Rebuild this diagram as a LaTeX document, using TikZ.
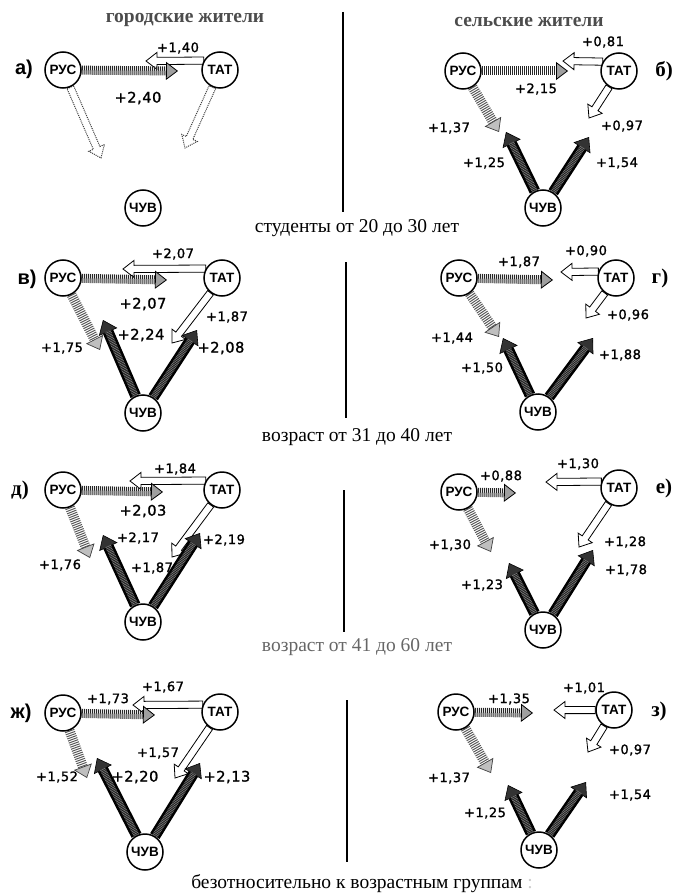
\documentclass[tikz,border=0pt]{standalone}
\usepackage{fontspec}
\setmainfont{Liberation Serif}
\setsansfont{Liberation Sans}
\newfontfamily\techfont{DejaVu Sans}[LetterSpace=4.0, FakeBold=1.4]
\usepackage{tikz}
\usetikzlibrary{calc, arrows.meta}
\pgfdeclarelayer{behind}
\pgfsetlayers{behind,main}

\begin{document}
\begin{tikzpicture}[x=1pt, y=-1pt,
    ethnos/.style={draw, circle, line width=1.5pt, fill=white, minimum size=36pt, inner sep=0pt,
        font=\sffamily\bfseries\fontsize{13.5}{13}\selectfont},
    val/.style={inner sep=1pt, font=\techfont\fontsize{13}{13}\selectfont},
    bigval/.style={inner sep=1pt, font=\techfont\fontsize{14.5}{15}\selectfont},
    sfletter/.style={font=\sffamily\bfseries\fontsize{20}{20}\selectfont},
    rmletter/.style={font=\bfseries\fontsize{21}{21}\selectfont},
    caption/.style={font=\fontsize{19.5}{20}\selectfont},
    heading/.style={text=black!70, font=\bfseries\fontsize{19.5}{20}\selectfont},
    hatcharrow/.style={draw=black!85, line width=9pt, dash pattern=on 1pt off 1pt,
        -{Triangle[length=12pt, width=18pt, line width=0.8pt, color=black, fill=gray!75]}},
    lightarrow/.style={draw=black!65, line width=10pt, dash pattern=on 1pt off 1.2pt,
        -{Triangle[length=12pt, width=19pt, line width=0.7pt, color=black!75, fill=gray!50]}},
    darkarrow/.style={draw=black, line width=11pt,
        -{Triangle[length=13pt, width=20pt, line width=0.6pt, color=black, fill=black!80]},
        postaction={draw=black!55, line width=6pt, dash pattern=on 0.8pt off 0.8pt, arrows=-, shorten >=12pt}},
    openarrow/.style={draw=black, fill=white, line width=0.8pt, line join=miter,
        to path={($(\tikztostart)!3.6pt!90:(\tikztotarget)$)
            -- ($(\tikztotarget)!11pt!(\tikztostart)!3.6pt!90:(\tikztotarget)$)
            -- ($(\tikztotarget)!11pt!(\tikztostart)!8.5pt!90:(\tikztotarget)$)
            -- (\tikztotarget)
            -- ($(\tikztotarget)!11pt!(\tikztostart)!8.5pt!-90:(\tikztotarget)$)
            -- ($(\tikztotarget)!11pt!(\tikztostart)!3.6pt!-90:(\tikztotarget)$)
            -- ($(\tikztostart)!3.6pt!-90:(\tikztotarget)$) -- cycle}},
    dotarrow/.style={openarrow, draw=black!75, line width=1pt, densely dotted}
]
    \useasboundingbox (0,0) rectangle (676,896);

    % Column headings and captions
    \node[heading] (cityhead) at (185,20) {городские жители};
    \node[heading] (ruralhead) at (529,22) {сельские жители};
    \node[caption] (cap1) at (357,228) {студенты от 20 до 30 лет};
    \node[caption] (cap2) at (357,437) {возраст от 31 до 40 лет};
    \node[caption, text=black!60] (cap3) at (357,647) {возраст от 41 до 60 лет};
    \node[caption] (cap4) at (362,884) {безотносительно к возрастным группам {\color{black!20}:}};

    % Separators
    \draw[line width=1.6pt] (343,12) -- (343,212);
    \draw[line width=1.6pt] (346,262) -- (346,418);
    \draw[line width=1.6pt] (344,490) -- (344,632);
    \draw[line width=1.6pt] (347,700) -- (347,862);

    % a) city, students
    \node[sfletter] (la) at (24,69) {а)};
    \node[ethnos] (rusA) at (63,70) {РУС};
    \node[ethnos] (tatA) at (220,70) {ТАТ};
    \node[ethnos] (chuvA) at (143,208) {ЧУВ};
    \coordinate (hA) at (178,71);
    \coordinate (wA) at (146,61);
    \coordinate (pA1) at (101,158);
    \coordinate (pA2) at (185,148);
    \node[bigval] (vA1) at (138,98) {+2,40};
    \node[val] (vA2) at (178,48) {+1,40};

    % b) rural, students
    \node[rmletter] (lb) at (664,71) {б)};
    \node[ethnos] (rusB) at (463,71) {РУС};
    \node[ethnos] (tatB) at (619,71) {ТАТ};
    \node[ethnos] (chuvB) at (543,208) {ЧУВ};
    \coordinate (hB) at (568,71);
    \coordinate (wB) at (563,61);
    \coordinate (sB) at (499,132);
    \coordinate (oB) at (589,118);
    \coordinate (dB1) at (506,132);
    \coordinate (dB2) at (589,137);
    \node[val] (vB1) at (536,89) {+2,15};
    \node[val] (vB2) at (603,42) {+0,81};
    \node[val] (vB3) at (449,128) {+1,37};
    \node[val] (vB4) at (622,126) {+0,97};
    \node[val] (vB5) at (484,163) {+1,25};
    \node[val] (vB6) at (617,163) {+1,54};

    % c) city, 31-40
    \node[sfletter] (lc) at (27,279) {в)};
    \node[ethnos] (rusC) at (63,278) {РУС};
    \node[ethnos] (tatC) at (222,278) {ТАТ};
    \node[ethnos] (chuvC) at (143,413) {ЧУВ};
    \coordinate (hC) at (167,280);
    \coordinate (wC) at (123,269);
    \coordinate (sC) at (100,350);
    \coordinate (oC) at (172,343);
    \coordinate (dC1) at (103,320);
    \coordinate (dC2) at (197,330);
    \node[bigval] (vC1) at (143,304) {+2,07};
    \node[val] (vC2) at (173,254) {+2,07};
    \node[val] (vC3) at (62,348) {+1,75};
    \node[val] (vC4) at (227,317) {+1,87};
    \node[bigval] (vC5) at (141,335) {+2,24};
    \node[bigval] (vC6) at (221,348) {+2,08};

    % d) rural, 31-40
    \node[rmletter] (ld) at (660,278) {г)};
    \node[ethnos] (rusD) at (459,278) {РУС};
    \node[ethnos] (tatD) at (616,278) {ТАТ};
    \node[ethnos] (chuvD) at (538,412) {ЧУВ};
    \coordinate (hD) at (553,280);
    \coordinate (wD) at (561,272);
    \coordinate (sD) at (499,337);
    \coordinate (oD) at (586,318);
    \coordinate (dD1) at (503,338);
    \coordinate (dD2) at (593,338);
    \node[val] (vD1) at (519,262) {+1,87};
    \node[val] (vD2) at (586,251) {+0,90};
    \node[val] (vD3) at (452,338) {+1,44};
    \node[val] (vD4) at (628,315) {+0,96};
    \node[val] (vD5) at (482,368) {+1,50};
    \node[val] (vD6) at (620,355) {+1,88};

    % e) city, 41-60
    \node[rmletter] (le) at (20,490) {д)};
    \node[ethnos] (rusE) at (63,490) {РУС};
    \node[ethnos] (tatE) at (222,490) {ТАТ};
    \node[ethnos] (chuvE) at (143,622) {ЧУВ};
    \coordinate (hE) at (163,492);
    \coordinate (wE) at (130,481);
    \coordinate (sE) at (90,558);
    \coordinate (oE) at (172,557);
    \coordinate (dE1) at (103,535);
    \coordinate (dE2) at (200,533);
    \node[bigval] (vE1) at (143,511) {+2,03};
    \node[val] (vE2) at (175,469) {+1,84};
    \node[val] (vE3) at (60,565) {+1,76};
    \node[val] (vE4) at (152,568) {+1,87};
    \node[val] (vE5) at (138,538) {+2,17};
    \node[val] (vE6) at (224,540) {+2,19};

    % f) rural, 41-60
    \node[rmletter] (lf) at (664,488) {е)};
    \node[ethnos] (rusF) at (459,492) {РУС};
    \node[ethnos] (tatF) at (619,488) {ТАТ};
    \node[ethnos] (chuvF) at (543,630) {ЧУВ};
    \coordinate (hF) at (516,493);
    \coordinate (wF) at (546,482);
    \coordinate (sF) at (491,552);
    \coordinate (oF) at (579,547);
    \coordinate (dF1) at (509,563);
    \coordinate (dF2) at (593,550);
    \node[val] (vF1) at (501,476) {+0,88};
    \node[val] (vF2) at (578,464) {+1,30};
    \node[val] (vF3) at (450,545) {+1,30};
    \node[val] (vF4) at (625,542) {+1,28};
    \node[val] (vF5) at (482,585) {+1,23};
    \node[val] (vF6) at (626,570) {+1,78};

    % g) city, all ages
    \node[sfletter] (lg) at (21,713) {ж)};
    \node[ethnos] (rusG) at (63,713) {РУС};
    \node[ethnos] (tatG) at (220,712) {ТАТ};
    \node[ethnos] (chuvG) at (145,852) {ЧУВ};
    \coordinate (hG) at (155,715);
    \coordinate (wG) at (133,705);
    \coordinate (sG) at (87,778);
    \coordinate (oG) at (175,778);
    \coordinate (dG1) at (97,758);
    \coordinate (dG2) at (200,763);
    \node[val] (vG1) at (108,699) {+1,73};
    \node[val] (vG2) at (163,687) {+1,67};
    \node[val] (vG3) at (57,777) {+1,52};
    \node[val] (vG4) at (158,753) {+1,57};
    \node[bigval] (vG5) at (135,777) {+2,20};
    \node[bigval] (vG6) at (227,777) {+2,13};

    % h) rural, all ages
    \node[rmletter] (lh) at (659,711) {з)};
    \node[ethnos] (rusH) at (456,712) {РУС};
    \node[ethnos] (tatH) at (614,710) {ТАТ};
    \node[ethnos] (chuvH) at (539,850) {ЧУВ};
    \coordinate (hH) at (533,713);
    \coordinate (wH) at (554,710);
    \coordinate (sH) at (491,773);
    \coordinate (oH) at (588,752);
    \coordinate (dH1) at (508,785);
    \coordinate (dH2) at (586,782);
    \node[val] (vH1) at (509,699) {+1,35};
    \node[val] (vH2) at (584,688) {+1,01};
    \node[val] (vH3) at (449,778) {+1,37};
    \node[val] (vH4) at (630,750) {+0,97};
    \node[val] (vH5) at (485,813) {+1,25};
    \node[val] (vH6) at (630,795) {+1,54};

    % Arrows go under the circles
    \begin{pgfonlayer}{behind}
        % a)
        \draw[openarrow] (tatA.150) to (wA);
        \draw[hatcharrow] (rusA) -- (hA);
        \draw[dotarrow] (rusA.-67) to (pA1);
        \draw[dotarrow] (tatA.-114) to (pA2);
        % b)
        \draw[openarrow] (tatB.150) to (wB);
        \draw[openarrow] (tatB.-122) to (oB);
        \draw[hatcharrow] (rusB) -- (hB);
        \draw[lightarrow] (rusB) -- (sB);
        \draw[darkarrow] (chuvB) -- (dB1);
        \draw[darkarrow] (chuvB) -- (dB2);
        % c)
        \draw[openarrow] (tatC.150) to (wC);
        \draw[openarrow] (tatC.-128) to (oC);
        \draw[hatcharrow] (rusC) -- (hC);
        \draw[lightarrow] (rusC) -- (sC);
        \draw[darkarrow] (chuvC) -- (dC1);
        \draw[darkarrow] (chuvC) -- (dC2);
        % d)
        \draw[openarrow] (tatD.160) to (wD);
        \draw[openarrow] (tatD.-127) to (oD);
        \draw[hatcharrow] (rusD) -- (hD);
        \draw[lightarrow] (rusD) -- (sD);
        \draw[darkarrow] (chuvD) -- (dD1);
        \draw[darkarrow] (chuvD) -- (dD2);
        % e)
        \draw[openarrow] (tatE.150) to (wE);
        \draw[openarrow] (tatE.-127) to (oE);
        \draw[hatcharrow] (rusE) -- (hE);
        \draw[lightarrow] (rusE) -- (sE);
        \draw[darkarrow] (chuvE) -- (dE1);
        \draw[darkarrow] (chuvE) -- (dE2);
        % f)
        \draw[openarrow] (tatF.160) to (wF);
        \draw[openarrow] (tatF.-124) to (oF);
        \draw[hatcharrow] (rusF) -- (hF);
        \draw[lightarrow] (rusF) -- (sF);
        \draw[darkarrow] (chuvF) -- (dF1);
        \draw[darkarrow] (chuvF) -- (dF2);
        % g)
        \draw[openarrow] (tatG.157) to (wG);
        \draw[openarrow] (tatG.-124) to (oG);
        \draw[hatcharrow] (rusG) -- (hG);
        \draw[lightarrow] (rusG) -- (sG);
        \draw[darkarrow] (chuvG) -- (dG1);
        \draw[darkarrow] (chuvG) -- (dG2);
        % h)
        \draw[openarrow] (tatH.180) to (wH);
        \draw[openarrow] (tatH.-122) to (oH);
        \draw[hatcharrow] (rusH) -- (hH);
        \draw[lightarrow] (rusH) -- (sH);
        \draw[darkarrow] (chuvH) -- (dH1);
        \draw[darkarrow] (chuvH) -- (dH2);
    \end{pgfonlayer}

\end{tikzpicture}
\end{document}
